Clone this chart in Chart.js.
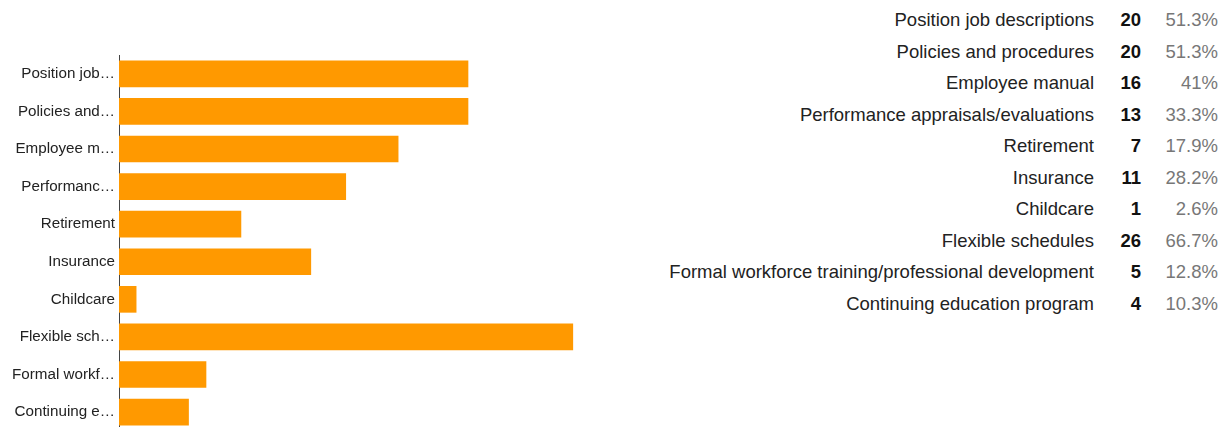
<!DOCTYPE html>
<html>
<head>
<meta charset="utf-8">
<script src="https://cdn.jsdelivr.net/npm/chart.js@4"></script>
<style>
  html, body { margin: 0; padding: 0; background: #fff; overflow: hidden; width: 1224px; height: 427px; }
  #wrap { position: absolute; left: 0; top: 0; width: 643px; height: 444px; }
  #tbl { position: absolute; right: 6px; top: 4px; border-collapse: collapse;
         font-family: "Liberation Sans", Arial, sans-serif; font-size: 18.5px; color: #222; }
  #tbl td { padding: 0; height: 31.5px; line-height: 31.5px; text-align: right; white-space: nowrap; }
  #tbl td.n { font-weight: bold; width: 47px; color: #111; }
  #tbl td.p { width: 77px; color: #777; }
</style>
</head>
<body>
<div id="wrap"><canvas id="c"></canvas></div>
<table id="tbl"></table>
<script>
const categories = [
  "Position job descriptions",
  "Policies and procedures",
  "Employee manual",
  "Performance appraisals/evaluations",
  "Retirement",
  "Insurance",
  "Childcare",
  "Flexible schedules",
  "Formal workforce training/professional development",
  "Continuing education program"
];
const tickLabels = [
  "Position job…", "Policies and…", "Employee m…", "Performanc…", "Retirement",
  "Insurance", "Childcare", "Flexible sch…", "Formal workf…", "Continuing e…"
];
const counts = [20, 20, 16, 13, 7, 11, 1, 26, 5, 4];
const percents = ["51.3%", "51.3%", "41%", "33.3%", "17.9%", "28.2%", "2.6%", "66.7%", "12.8%", "10.3%"];

// Right-hand table built from the arrays
const tbl = document.getElementById('tbl');
categories.forEach((c, i) => {
  const tr = document.createElement('tr');
  const a = document.createElement('td'); a.textContent = c;
  const b = document.createElement('td'); b.className = 'n'; b.textContent = counts[i];
  const d = document.createElement('td'); d.className = 'p'; d.textContent = percents[i];
  tr.append(a, b, d); tbl.appendChild(tr);
});

new Chart(document.getElementById('c'), {
  type: 'bar',
  data: {
    labels: tickLabels,
    datasets: [{
      data: counts,
      backgroundColor: '#ff9900',
      borderWidth: 0,
      categoryPercentage: 1,
      barPercentage: 0.71
    }]
  },
  options: {
    indexAxis: 'y',
    responsive: true,
    maintainAspectRatio: false,
    animation: false,
    layout: { padding: { top: 55, bottom: 0, left: 0, right: 0 } },
    plugins: { legend: { display: false }, tooltip: { enabled: false } },
    scales: {
      x: { display: false, min: 0, max: 30 },
      y: {
        grid: { display: false, drawTicks: false },
        border: { display: true, color: '#444', width: 1 },
        ticks: {
          color: '#222', padding: 4, autoSkip: false,
          font: { family: '"Liberation Sans", Arial, sans-serif', size: 15.2 }
        },
        afterFit: (s) => { s.width = 119; }
      }
    }
  }
});
</script>
</body>
</html>
